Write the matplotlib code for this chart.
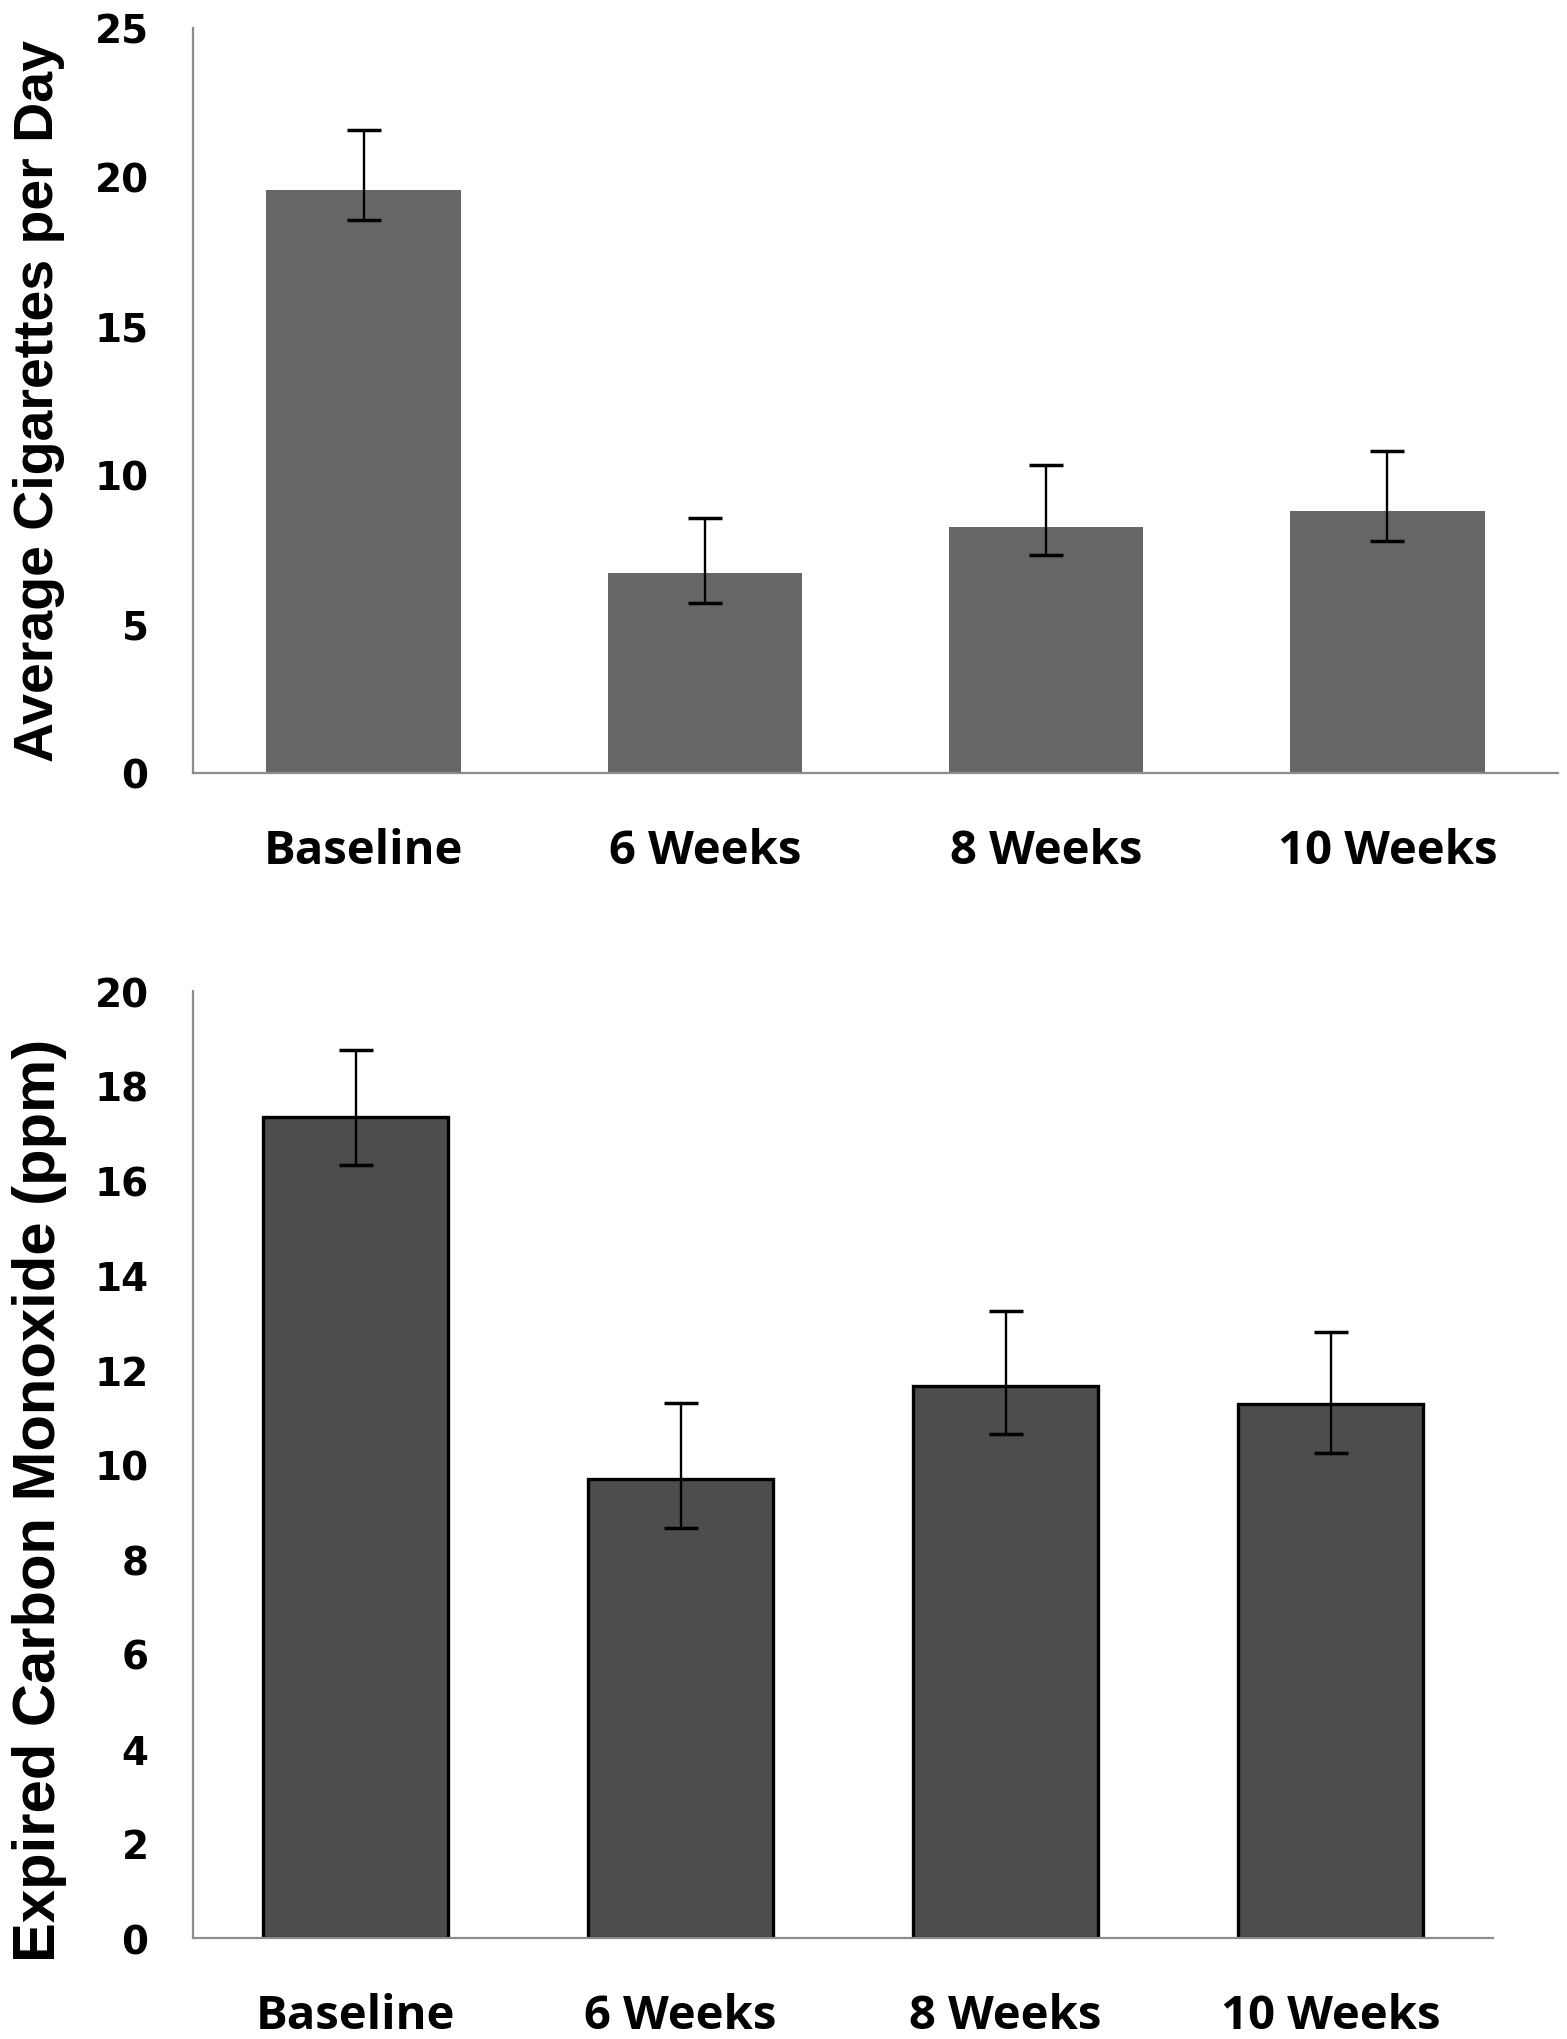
import matplotlib.pyplot as plt

# data definition
categories = ['Baseline', '6 Weeks', '8 Weeks', '10 Weeks']

cig_mean = [19.57, 6.70, 8.27, 8.80]
cig_err_up = [2.00, 1.86, 2.05, 2.02]
cig_err_down = [1.00, 1.00, 0.97, 1.00]

co_mean = [17.33, 9.69, 11.66, 11.27]
co_err_up = [1.43, 1.62, 1.58, 1.53]
co_err_down = [1.00, 1.03, 1.02, 1.03]

axis_grey = '#8c8c8c'
x = range(len(categories))

fig = plt.figure(figsize=(15.67, 20.40), dpi=100)
ax1 = fig.add_axes([0.1232, 0.6206, 0.8711, 0.3652])
ax2 = fig.add_axes([0.1232, 0.0495, 0.8296, 0.4642])


def style_axis(ax, ymax, step, ylabel, label_y, label_size):
    ax.set_xlim(-0.5, 3.5)
    ax.set_ylim(0, ymax)
    ax.set_yticks(range(0, ymax + 1, step))
    ax.set_yticklabels([str(v) for v in range(0, ymax + 1, step)],
                       fontsize=28, fontweight='bold', family='DejaVu Sans')
    ax.set_xticks(list(x))
    ax.set_xticklabels(categories, fontsize=34, fontweight='bold', family='Open Sans')
    ax.tick_params(axis='y', length=0, pad=32)
    ax.tick_params(axis='x', length=0, pad=39)
    for side in ['top', 'right']:
        ax.spines[side].set_visible(False)
    for side in ['left', 'bottom']:
        ax.spines[side].set_color(axis_grey)
        ax.spines[side].set_linewidth(1.6)
    fig.text(0.025, label_y, ylabel, rotation=90, ha='center', va='center',
             fontsize=label_size, fontweight='bold', family='Liberation Sans')


# top: cigarettes per day
ax1.bar(x, cig_mean, width=0.57, color='#666666', zorder=2)
ax1.errorbar(x, cig_mean, yerr=[cig_err_down, cig_err_up], fmt='none',
             ecolor='black', elinewidth=1.7, capsize=12, capthick=2.5, zorder=3)
style_axis(ax1, 25, 5, 'Average Cigarettes per Day', 1 - 401 / 2040, 40)

# bottom: expired carbon monoxide
ax2.bar(x, co_mean, width=0.57, color='#4d4d4d', edgecolor='black', linewidth=2.4, zorder=2)
ax2.errorbar(x, co_mean, yerr=[co_err_down, co_err_up], fmt='none',
             ecolor='black', elinewidth=1.7, capsize=12, capthick=2.5, zorder=3)
style_axis(ax2, 20, 2, 'Expired Carbon Monoxide (ppm)', 1 - 1500 / 2040, 43)

plt.savefig('out.png', dpi=100)
